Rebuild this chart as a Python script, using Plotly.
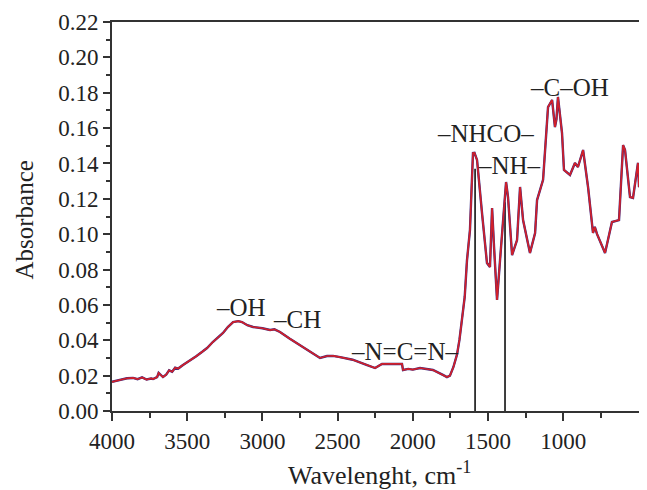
import plotly.graph_objects as go

# Spectrum (wavenumber, cm-1) and absorbance
wavenumber = [4000, 3940, 3900, 3860, 3830, 3800, 3770, 3740, 3727, 3700, 3690, 3661, 3640, 3620,
              3600, 3580, 3560, 3528, 3500, 3470, 3440, 3400, 3368, 3330, 3300, 3262, 3230, 3195,
              3160, 3136, 3100, 3062, 3000, 2949, 2920, 2883, 2820, 2750, 2700, 2650, 2617, 2570,
              2530, 2484, 2400, 2304, 2251, 2205, 2150, 2100, 2072, 2065, 2030, 2000, 1952, 1900,
              1866, 1800, 1773, 1753, 1730, 1706, 1690, 1673, 1655, 1640, 1620, 1605, 1600, 1590,
              1573, 1540, 1507, 1487, 1473, 1460, 1440, 1420, 1400, 1380, 1367, 1340, 1307, 1287,
              1267, 1221, 1187, 1174, 1134, 1101, 1074, 1055, 1045, 1035, 1008, 995, 955, 922, 902,
              868, 835, 802, 790, 775, 722, 676, 629, 602, 589, 556, 536, 516, 503, 496, 476]
absorbance = [0.0165, 0.0178, 0.0185, 0.0187, 0.0180, 0.0190, 0.0178, 0.0184, 0.0181, 0.0192,
              0.0215, 0.0192, 0.0205, 0.0230, 0.0222, 0.0245, 0.0240, 0.0260, 0.0275, 0.0290,
              0.0310, 0.0335, 0.0356, 0.0390, 0.0415, 0.0441, 0.0475, 0.0503, 0.0508, 0.0503,
              0.0485, 0.0475, 0.0468, 0.0458, 0.0462, 0.0447, 0.0410, 0.0373, 0.0345, 0.0318,
              0.0300, 0.0311, 0.0312, 0.0305, 0.0290, 0.0260, 0.0243, 0.0266, 0.0268, 0.0266,
              0.0266, 0.0232, 0.0238, 0.0234, 0.0243, 0.0235, 0.0232, 0.0204, 0.0192, 0.0200,
              0.0249, 0.0320, 0.0402, 0.0520, 0.0645, 0.0850, 0.1024, 0.1350, 0.1459, 0.1460,
              0.1420, 0.1120, 0.0837, 0.0814, 0.1148, 0.0928, 0.0628, 0.0854, 0.1100, 0.1295,
              0.1210, 0.0882, 0.0967, 0.1267, 0.1080, 0.0894, 0.1007, 0.1193, 0.1307, 0.1719,
              0.1759, 0.1606, 0.1650, 0.1776, 0.1572, 0.1363, 0.1335, 0.1403, 0.1380, 0.1476,
              0.1267, 0.1007, 0.1041, 0.1000, 0.0894, 0.1069, 0.1080, 0.1504, 0.1476, 0.1210,
              0.1205, 0.1324, 0.1403, 0.1267, 0.1290]

# Reference marker lines (black sticks)
stick_x = [1586, 1387]
stick_y = [0.137, 0.118]

# Peak labels
label_text = ["–OH", "–CH", "–N=C=N–", "–NHCO–", "–NH–", "–C–OH"]
label_x = [3142, 2770, 2058, 1520, 1354, 955]
label_y = [0.0588, 0.0515, 0.0334, 0.157, 0.139, 0.183]

x_ticks = [4000, 3500, 3000, 2500, 2000, 1500, 1000]
x_minor = [3750, 3250, 2750, 2250, 1750, 1250, 750]
y_ticks = [0.00, 0.02, 0.04, 0.06, 0.08, 0.10, 0.12, 0.14, 0.16, 0.18, 0.20, 0.22]

x_title = "Wavelenght, cm<sup>-1</sup>"
y_title = "Absorbance"

font_family = "Liberation Serif, DejaVu Serif, serif"
ink = "#222222"
axis_col = "#333333"

fig = go.Figure()
for sx, sy in zip(stick_x, stick_y):
    fig.add_trace(go.Scatter(x=[sx, sx], y=[0, sy], mode="lines",
                             line=dict(color="#2b2b2b", width=1.8), showlegend=False,
                             hoverinfo="skip"))
fig.add_trace(go.Scatter(x=wavenumber, y=absorbance, mode="lines",
                         line=dict(color="#3a2a80", width=2.4), showlegend=False,
                         hoverinfo="skip"))
fig.add_trace(go.Scatter(x=wavenumber, y=absorbance, mode="lines",
                         line=dict(color="#d1202a", width=1.7), showlegend=False))

for t, lx, ly in zip(label_text, label_x, label_y):
    fig.add_annotation(x=lx, y=ly, text=t, showarrow=False,
                       font=dict(family=font_family, size=25, color=ink))

# axis titles as annotations for precise placement
fig.add_annotation(xref="paper", yref="paper", x=0, y=0.5, xanchor="center", yanchor="middle",
                   xshift=-88, yshift=-4, text=y_title, textangle=-90, showarrow=False,
                   font=dict(family=font_family, size=25, color=ink))
fig.add_annotation(xref="paper", yref="paper", x=0.5, y=0, xanchor="center", yanchor="middle",
                   yshift=-62, text=x_title, showarrow=False,
                   font=dict(family=font_family, size=26, color=ink))

# The page body has an 8px margin, so the figure is sized to fit the window from (8, 8)
fig.update_layout(
    width=639, height=482,
    margin=dict(l=104, r=0, t=14, b=79, autoexpand=False),
    paper_bgcolor="white", plot_bgcolor="white",
    font=dict(family=font_family, size=23, color=ink),
    showlegend=False,
)
fig.update_xaxes(
    range=[4000, 443], tickvals=x_ticks, ticktext=[str(v) for v in x_ticks],
    showgrid=False, zeroline=False, automargin=False,
    showline=True, linecolor=axis_col, linewidth=2, mirror=True,
    ticks="outside", ticklen=8, tickwidth=2, tickcolor=axis_col,
    minor=dict(tickvals=x_minor, ticks="outside",
               ticklen=5, tickwidth=2, tickcolor=axis_col),
    tickfont=dict(size=23),
)
fig.update_yaxes(
    range=[0, 0.22], tickvals=y_ticks, tickformat=".2f",
    showgrid=False, zeroline=False, automargin=False,
    showline=True, linecolor=axis_col, linewidth=2,
    ticks="outside", ticklen=7, tickwidth=2, tickcolor=axis_col,
    minor=dict(dtick=0.01, ticks="outside", ticklen=4, tickwidth=2, tickcolor=axis_col),
    tickfont=dict(size=23),
)

fig.write_html("out.html")
